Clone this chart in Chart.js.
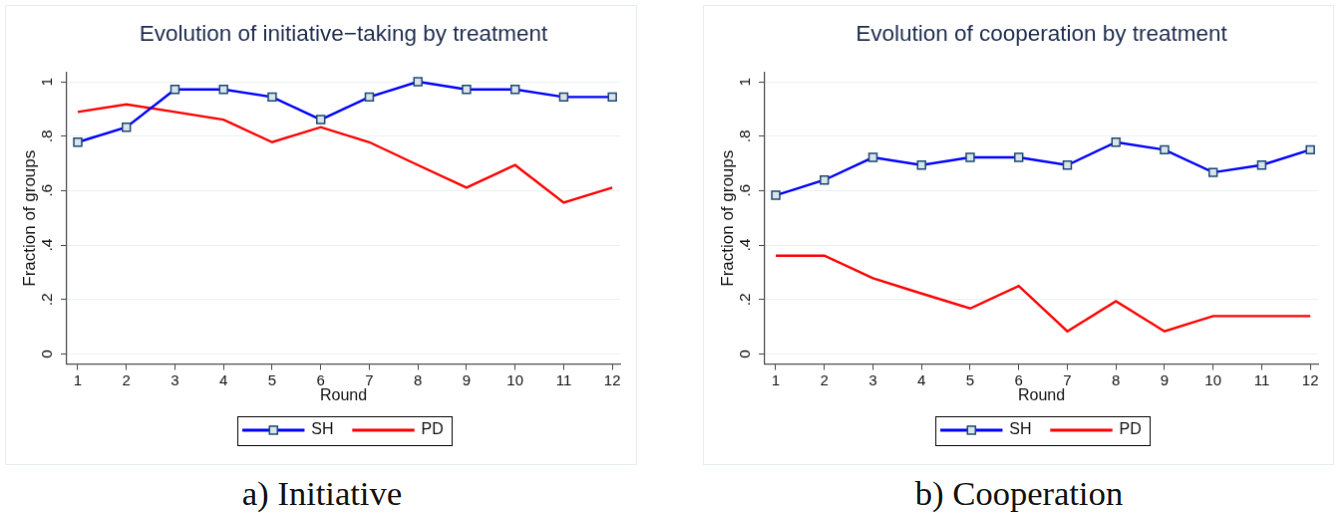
<!DOCTYPE html>
<html>
<head>
<meta charset="utf-8">
<script src="https://cdn.jsdelivr.net/npm/chart.js@4"></script>
<style>
  body { margin: 0; background: #fff; width: 1340px; height: 514px; position: relative; overflow: hidden; }
  canvas { position: absolute; border: 1px solid #e6eef0; }
  #c1 { left: 5px; top: 5px; }
  #c2 { left: 703px; top: 5px; }
  .cap { position: absolute; top: 474px; font-family: "Liberation Serif", serif; font-size: 34.5px; color: #111; text-align: center; width: 400px; }
</style>
</head>
<body>
<canvas id="c1" width="632" height="460"></canvas>
<canvas id="c2" width="631" height="460"></canvas>
<div class="cap" style="left:122px">a) Initiative</div>
<div class="cap" style="left:819px">b) Cooperation</div>
<script>
// rounds 1..12
const rounds = [1, 2, 3, 4, 5, 6, 7, 8, 9, 10, 11, 12];
const yTicks = [0, 0.2, 0.4, 0.6, 0.8, 1];
const yTickLabels = ['0', '.2', '.4', '.6', '.8', '1'];

// Initiative-taking
const initSH = [0.778, 0.833, 0.972, 0.972, 0.944, 0.861, 0.944, 1.0, 0.972, 0.972, 0.944, 0.944];
const initPD = [0.889, 0.917, 0.889, 0.861, 0.778, 0.833, 0.778, 0.694, 0.611, 0.694, 0.556, 0.611];

// Cooperation
const coopSH = [0.583, 0.639, 0.722, 0.694, 0.722, 0.722, 0.694, 0.778, 0.750, 0.667, 0.694, 0.750];
const coopPD = [0.361, 0.361, 0.278, 0.222, 0.167, 0.250, 0.083, 0.194, 0.083, 0.139, 0.139, 0.139];

const FONT = "'Liberation Sans', Arial, sans-serif";
const BLUE = '#0000ff';
const RED = '#ff0000';
const MARK_EDGE = '#1a476f';
const MARK_FILL = '#dce4eb';

// border around the legend + square marker on the SH sample line
const legendBox = {
    id: 'legendBox',
    afterDraw(chart) {
        const lg = chart.legend;
        if (!lg || !lg.legendHitBoxes || !lg.legendHitBoxes.length) return;
        const hb = lg.legendHitBoxes;
        const first = hb[0], last = hb[hb.length - 1];
        const cy = first.top + first.height / 2;
        const ctx = chart.ctx;
        ctx.save();
        ctx.strokeStyle = '#000';
        ctx.lineWidth = 1;
        const left = Math.round(first.left - 6) + 0.5;
        const right = Math.round(last.left + last.width + 8) + 0.5;
        ctx.strokeRect(left, Math.round(cy - 14.5) + 0.5, right - left, 29);
        // marker on SH sample
        const mx = first.left + 30;
        ctx.fillStyle = MARK_FILL;
        ctx.strokeStyle = MARK_EDGE;
        ctx.lineWidth = 1.5;
        ctx.fillRect(mx - 4, cy - 4, 8, 8);
        ctx.strokeRect(mx - 4, cy - 4, 8, 8);
        ctx.restore();
    }
};

function makeChart(id, title, sh, pd, padRight) {
    const ctx = document.getElementById(id).getContext('2d');
    return new Chart(ctx, {
        type: 'line',
        data: {
            datasets: [
                {
                    label: 'SH',
                    data: rounds.map((r, i) => ({ x: r, y: sh[i] })),
                    borderColor: BLUE,
                    backgroundColor: BLUE,
                    borderWidth: 2.4,
                    pointStyle: 'rect',
                    pointRadius: 5.6,
                    pointBorderWidth: 1.5,
                    pointBorderColor: MARK_EDGE,
                    pointBackgroundColor: MARK_FILL,
                    tension: 0,
                    fill: false
                },
                {
                    label: 'PD',
                    data: rounds.map((r, i) => ({ x: r, y: pd[i] })),
                    borderColor: RED,
                    backgroundColor: RED,
                    borderWidth: 2.4,
                    pointRadius: 0,
                    tension: 0,
                    fill: false
                }
            ]
        },
        options: {
            responsive: false,
            animation: false,
            layout: { padding: { left: 0, right: padRight, top: 0, bottom: 16 } },
            plugins: {
                title: {
                    display: true,
                    text: title,
                    fullSize: false,
                    color: '#1f2d4e',
                    font: { family: FONT, size: 22.5, weight: 'normal', lineHeight: 1.2 },
                    padding: { top: 15, bottom: 25 }
                },
                legend: {
                    display: true,
                    position: 'bottom',
                    fullSize: false,
                    labels: {
                        color: '#111',
                        font: { family: FONT, size: 16 },
                        boxWidth: 60,
                        boxHeight: 0.5,
                        padding: 20
                    }
                },
                tooltip: { enabled: false }
            },
            scales: {
                x: {
                    type: 'linear',
                    min: 0.775,
                    max: 12.16,
                    afterBuildTicks: s => { s.ticks = rounds.map(v => ({ value: v })); },
                    afterFit: s => { s.height = 38.5; },
                    grid: { drawOnChartArea: false, tickLength: 6, tickColor: '#444', tickWidth: 1 },
                    border: { display: true, color: '#444', width: 1.2 },
                    ticks: { color: '#111', font: { family: FONT, size: 15 }, padding: 2, maxRotation: 0, autoSkip: false },
                    title: { display: true, text: 'Round', color: '#111', font: { family: FONT, size: 16, lineHeight: 1 }, padding: { top: 0, bottom: -2 } }
                },
                y: {
                    min: -0.0369,
                    max: 1.0332,
                    afterBuildTicks: s => { s.ticks = yTicks.map(v => ({ value: v })); },
                    afterFit: s => { s.width = 61; },
                    grid: { color: '#e9f0f2', lineWidth: 1, tickLength: 6, tickColor: '#444', tickWidth: 1 },
                    border: { display: true, color: '#444', width: 1.2 },
                    ticks: {
                        color: '#111',
                        font: { family: FONT, size: 15.5 },
                        minRotation: 90,
                        maxRotation: 90,
                        crossAlign: 'center',
                        padding: 7,
                        autoSkip: false,
                        callback: (v, i) => yTickLabels[i]
                    },
                    title: { display: true, text: 'Fraction of groups', color: '#111', font: { family: FONT, size: 17, lineHeight: 1 }, padding: { top: 15.5, bottom: 0 } }
                }
            }
        },
        plugins: [legendBox]
    });
}

makeChart('c1', 'Evolution of initiative\u2212taking by treatment', initSH, initPD, 16);
makeChart('c2', 'Evolution of cooperation by treatment', coopSH, coopPD, 15);
</script>
</body>
</html>
